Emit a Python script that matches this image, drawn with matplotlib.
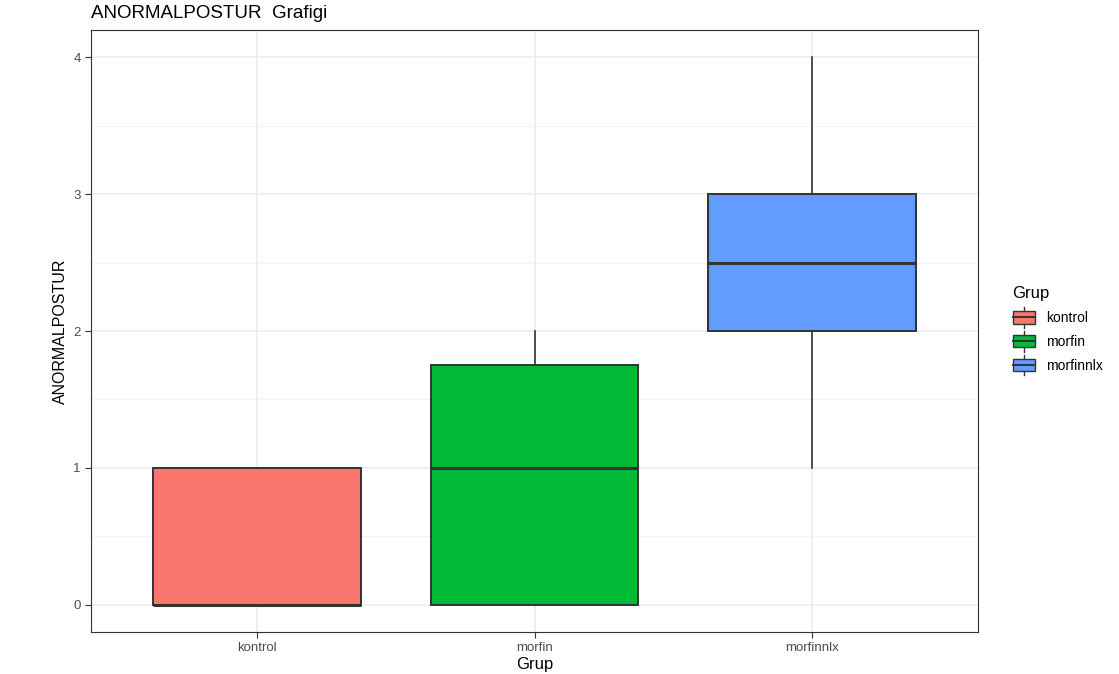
import matplotlib
matplotlib.use("Agg")
import matplotlib.pyplot as plt
from matplotlib.patches import Patch, Rectangle
from matplotlib.legend_handler import HandlerPatch
from matplotlib.lines import Line2D

plt.rcParams['font.family'] = ['Liberation Sans', 'DejaVu Sans']

# data
groups = ["kontrol", "morfin", "morfinnlx"]
q1 = [0, 0, 2]
median = [0, 1, 2.5]
q3 = [1, 1.75, 3]
whislo = [0, 0, 1]
whishi = [1, 2, 4]
colors = ["#F8766D", "#00BA38", "#619CFF"]
yticks = [0, 1, 2, 3, 4]

stats = []
for i, g in enumerate(groups):
    stats.append(dict(label=g, q1=q1[i], med=median[i], q3=q3[i],
                      whislo=whislo[i], whishi=whishi[i], fliers=[]))

fig = plt.figure(figsize=(11.19, 6.74), dpi=100)
ax = fig.add_axes([91/1119, 1-632/674, (978-91)/1119, (632-30)/674])

pos = [1, 2, 3]
bp = ax.bxp(stats, positions=pos, widths=0.75, patch_artist=True,
            showcaps=False, zorder=3,
            boxprops=dict(edgecolor="#333333", linewidth=1.4),
            medianprops=dict(color="#333333", linewidth=2.2),
            whiskerprops=dict(color="#333333", linewidth=1.2))
for patch, c in zip(bp["boxes"], colors):
    patch.set_facecolor(c)

ax.set_xlim(0.4, 3.6)
ax.set_ylim(-0.2, 4.2)
ax.set_xticks(pos)
ax.set_xticklabels(groups)
ax.set_yticks(yticks)
ax.set_yticks([0.5, 1.5, 2.5, 3.5], minor=True)
ax.grid(True, which="major", color="#EBEBEB", linewidth=1.1, zorder=0)
ax.grid(True, which="minor", axis="y", color="#F3F3F3", linewidth=0.6, zorder=0)
ax.set_axisbelow(True)
ax.tick_params(axis="both", which="major", colors="#333333", labelsize=9.5,
               length=4, width=0.8, labelcolor="#4D4D4D")
ax.tick_params(which="minor", length=0)
for s in ax.spines.values():
    s.set_color("#333333")
    s.set_linewidth(0.8)

ax.set_xlabel("Grup", fontsize=12, labelpad=2)
ax.set_ylabel("ANORMALPOSTUR", fontsize=11.5, labelpad=4, fontstretch="condensed")
fig.text(91/1119, 1-13/674, "ANORMALPOSTUR  Grafigi", fontsize=13.5, va="center", ha="left")


class BoxHandler(HandlerPatch):
    def create_artists(self, legend, orig_handle, xdescent, ydescent,
                       width, height, fontsize, trans):
        cx = width / 2 - xdescent
        vline = Line2D([cx, cx], [-ydescent - 3, height - ydescent + 3],
                       color="#333333", linewidth=1.0, transform=trans)
        rect = Rectangle((-xdescent, -ydescent), width, height,
                         facecolor=orig_handle.get_facecolor(),
                         edgecolor="#333333", linewidth=1.0, transform=trans)
        mline = Line2D([-xdescent, width - xdescent],
                       [height / 2 - ydescent] * 2, color="#333333",
                       linewidth=1.4, transform=trans)
        return [vline, rect, mline]


handles = [Patch(facecolor=c) for c in colors]
leg = fig.legend(handles, groups, title="Grup", loc="upper left",
                 bbox_to_anchor=(1000/1119, 1-274/674), frameon=False,
                 handler_map={Patch: BoxHandler()}, fontsize=10,
                 title_fontsize=12, handlelength=1.6, handleheight=1.0,
                 labelspacing=0.7, handletextpad=0.8)
leg._legend_box.align = "left"

fig.savefig("out.png", dpi=100)
